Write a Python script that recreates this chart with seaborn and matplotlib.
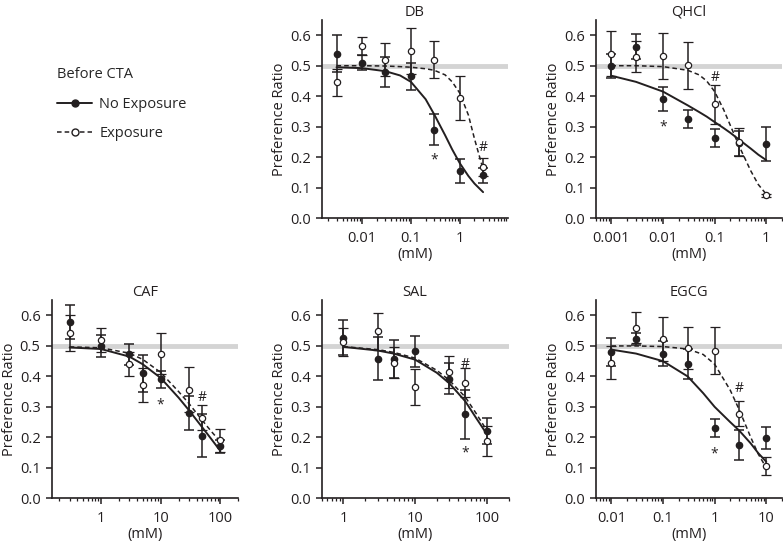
import matplotlib
matplotlib.use("Agg")
import matplotlib.pyplot as plt
import seaborn as sns
from matplotlib.lines import Line2D
from matplotlib.ticker import FuncFormatter, LogLocator, NullFormatter

sns.set_style("ticks")
plt.rcParams['font.family'] = ['Open Sans', 'DejaVu Sans']

INK = '#231f20'

# ---- DB ----
db_conc = [0.003, 0.01, 0.03, 0.1, 0.3, 1, 3]
db_noexp = [0.54, 0.51, 0.48, 0.465, 0.29, 0.155, 0.14]
db_noexp_err = [0.06, 0.025, 0.05, 0.045, 0.05, 0.04, 0.025]
db_exp = [0.445, 0.565, 0.52, 0.548, 0.52, 0.395, 0.168]
db_exp_err = [0.045, 0.03, 0.055, 0.075, 0.06, 0.072, 0.03]
db_fit_x = [0.003, 0.01, 0.03, 0.06, 0.1, 0.2, 0.3, 0.5, 0.7, 1, 1.5, 2, 3]
db_fit_noexp = [0.495, 0.492, 0.482, 0.468, 0.447, 0.39, 0.34, 0.272, 0.225, 0.18, 0.138, 0.113, 0.085]
db_fit_exp = [0.5, 0.5, 0.499, 0.497, 0.495, 0.49, 0.485, 0.47, 0.447, 0.41, 0.338, 0.26, 0.16]

# ---- QHCl ----
qh_conc = [0.001, 0.003, 0.01, 0.03, 0.1, 0.3, 1]
qh_noexp = [0.50, 0.563, 0.39, 0.325, 0.262, 0.245, 0.243]
qh_noexp_err = [0.04, 0.04, 0.04, 0.03, 0.03, 0.04, 0.055]
qh_exp = [0.54, 0.53, 0.532, 0.502, 0.373, 0.25, 0.075]
qh_exp_err = [0.075, 0.05, 0.077, 0.077, 0.063, 0.045, 0.005]
qh_fit_x = [0.001, 0.003, 0.01, 0.03, 0.05, 0.07, 0.1, 0.15, 0.2, 0.3, 0.5, 0.7, 1]
qh_fit_noexp = [0.467, 0.447, 0.415, 0.37, 0.348, 0.333, 0.315, 0.295, 0.28, 0.257, 0.228, 0.208, 0.19]
qh_fit_exp = [0.5, 0.5, 0.497, 0.485, 0.47, 0.45, 0.415, 0.355, 0.305, 0.235, 0.155, 0.11, 0.078]

# ---- CAF ----
caf_conc = [0.3, 1, 3, 5, 10, 30, 50, 100]
caf_noexp = [0.578, 0.50, 0.473, 0.41, 0.39, 0.28, 0.205, 0.17]
caf_noexp_err = [0.055, 0.035, 0.035, 0.06, 0.028, 0.055, 0.07, 0.02]
caf_exp = [0.543, 0.52, 0.44, 0.372, 0.475, 0.357, 0.265, 0.19]
caf_exp_err = [0.06, 0.04, 0.04, 0.057, 0.068, 0.075, 0.04, 0.038]
caf_fit_x = [0.3, 1, 3, 5, 10, 20, 30, 50, 70, 100]
caf_fit_noexp = [0.495, 0.49, 0.465, 0.44, 0.395, 0.33, 0.288, 0.232, 0.195, 0.155]
caf_fit_exp = [0.497, 0.494, 0.476, 0.456, 0.413, 0.35, 0.31, 0.255, 0.22, 0.185]

# ---- SAL ----
sal_conc = [1, 3, 5, 10, 30, 50, 100]
sal_noexp = [0.527, 0.458, 0.458, 0.482, 0.393, 0.275, 0.22]
sal_noexp_err = [0.058, 0.07, 0.063, 0.05, 0.05, 0.08, 0.042]
sal_exp = [0.513, 0.548, 0.445, 0.365, 0.415, 0.38, 0.188]
sal_exp_err = [0.045, 0.06, 0.05, 0.06, 0.053, 0.047, 0.048]
sal_fit_x = [1, 3, 5, 10, 20, 30, 50, 70, 100]
sal_fit_noexp = [0.497, 0.485, 0.475, 0.455, 0.412, 0.377, 0.318, 0.265, 0.21]
sal_fit_exp = [0.498, 0.488, 0.479, 0.46, 0.42, 0.387, 0.332, 0.28, 0.222]

# ---- EGCG ----
eg_conc = [0.01, 0.03, 0.1, 0.3, 1, 3, 10]
eg_noexp = [0.48, 0.523, 0.475, 0.44, 0.23, 0.175, 0.198]
eg_noexp_err = [0.045, 0.02, 0.04, 0.05, 0.03, 0.05, 0.035]
eg_exp = [0.445, 0.56, 0.523, 0.493, 0.485, 0.278, 0.105]
eg_exp_err = [0.055, 0.05, 0.072, 0.068, 0.077, 0.04, 0.03]
eg_fit_x = [0.01, 0.03, 0.1, 0.3, 0.6, 1, 2, 3, 5, 7, 10]
eg_fit_noexp = [0.488, 0.475, 0.45, 0.4, 0.345, 0.3, 0.25, 0.222, 0.18, 0.148, 0.12]
eg_fit_exp = [0.5, 0.5, 0.498, 0.49, 0.472, 0.44, 0.355, 0.29, 0.2, 0.145, 0.1]

panels = [
    dict(title='DB', conc=db_conc, noexp=db_noexp, noexp_err=db_noexp_err, exp=db_exp, exp_err=db_exp_err,
         fit_x=db_fit_x, fit_noexp=db_fit_noexp, fit_exp=db_fit_exp, xlim=(0.0015, 9.6),
         star=(0.3, 0.19), hash=(3, 0.23), rect=[0.411, 0.597, 0.2375, 0.366]),
    dict(title='QHCl', conc=qh_conc, noexp=qh_noexp, noexp_err=qh_noexp_err, exp=qh_exp, exp_err=qh_exp_err,
         fit_x=qh_fit_x, fit_noexp=qh_fit_noexp, fit_exp=qh_fit_exp, xlim=(0.0005, 2),
         star=(0.01, 0.30), hash=(0.1, 0.46), rect=[0.761, 0.597, 0.2375, 0.366]),
    dict(title='CAF', conc=caf_conc, noexp=caf_noexp, noexp_err=caf_noexp_err, exp=caf_exp, exp_err=caf_exp_err,
         fit_x=caf_fit_x, fit_noexp=caf_fit_noexp, fit_exp=caf_fit_exp, xlim=(0.15, 200),
         star=(10, 0.305), hash=(50, 0.33), rect=[0.066, 0.079, 0.2385, 0.366]),
    dict(title='SAL', conc=sal_conc, noexp=sal_noexp, noexp_err=sal_noexp_err, exp=sal_exp, exp_err=sal_exp_err,
         fit_x=sal_fit_x, fit_noexp=sal_fit_noexp, fit_exp=sal_fit_exp, xlim=(0.5, 200),
         star=(50, 0.15), hash=(50, 0.44), rect=[0.411, 0.079, 0.2385, 0.366]),
    dict(title='EGCG', conc=eg_conc, noexp=eg_noexp, noexp_err=eg_noexp_err, exp=eg_exp, exp_err=eg_exp_err,
         fit_x=eg_fit_x, fit_noexp=eg_fit_noexp, fit_exp=eg_fit_exp, xlim=(0.005, 20),
         star=(1, 0.145), hash=(3, 0.36), rect=[0.761, 0.079, 0.2375, 0.366]),
]

fig = plt.figure(figsize=(7.83, 5.41), dpi=100)

for p in panels:
    ax = fig.add_axes(p['rect'])
    ax.axhline(0.5, color='#d4d4d4', lw=3.5, zorder=0)
    # fitted curves
    sns.lineplot(x=p['fit_x'], y=p['fit_noexp'], ax=ax, color=INK, lw=1.4, zorder=2)
    sns.lineplot(x=p['fit_x'], y=p['fit_exp'], ax=ax, color=INK, lw=1.1,
                 linestyle=(0, (3, 2)), zorder=2)
    # data points with error bars
    ax.errorbar(p['conc'], p['noexp'], yerr=p['noexp_err'], fmt='o', color=INK, ms=4.5,
                mfc=INK, mec=INK, ecolor=INK, elinewidth=1.1, capsize=3.8, capthick=1.1, zorder=3)
    ax.errorbar(p['conc'], p['exp'], yerr=p['exp_err'], fmt='o', color=INK, ms=4.5,
                mfc='white', mec=INK, mew=0.9, ecolor=INK, elinewidth=1.1, capsize=3.8,
                capthick=1.1, zorder=4)
    ax.text(p['star'][0], p['star'][1], '*', ha='center', va='center', fontsize=10, color=INK)
    ax.text(p['hash'][0], p['hash'][1], '#', ha='center', va='center', fontsize=10, color=INK)

    ax.set_xscale('log')
    ax.set_xlim(*p['xlim'])
    ax.set_ylim(0, 0.65)
    ax.set_yticks([0.0, 0.1, 0.2, 0.3, 0.4, 0.5, 0.6])
    ax.yaxis.set_major_formatter(FuncFormatter(lambda v, _: f"{v:.1f}"))
    ax.xaxis.set_major_locator(LogLocator(base=10))
    ax.xaxis.set_minor_locator(LogLocator(base=10, subs=range(2, 10)))
    ax.xaxis.set_major_formatter(FuncFormatter(lambda v, _: f"{v:g}"))
    ax.xaxis.set_minor_formatter(NullFormatter())
    ax.tick_params(axis='both', which='major', direction='out', length=4, width=1.1,
                   labelsize=10.5, color=INK, labelcolor=INK)
    ax.tick_params(axis='x', which='major', pad=5)
    ax.tick_params(axis='y', which='major', pad=4)
    ax.tick_params(axis='x', which='minor', direction='out', length=2.2, width=0.9, color=INK)
    for s in ['top', 'right']:
        ax.spines[s].set_visible(False)
    for s in ['left', 'bottom']:
        ax.spines[s].set_linewidth(1.2)
        ax.spines[s].set_color(INK)
    ax.set_title(p['title'], fontsize=10.5, color=INK, pad=3)
    ax.set_ylabel('Preference Ratio', fontsize=10.5, color=INK, labelpad=2)
    ax.set_xlabel('(mM)', fontsize=10.5, color=INK, labelpad=1)

handles = [
    Line2D([], [], color=INK, lw=1.4, marker='o', ms=5, mfc=INK, mec=INK),
    Line2D([], [], color=INK, lw=1.1, linestyle=(0, (3, 2)), marker='o', ms=5, mfc='white', mec=INK),
]
fig.legend(handles, ['No Exposure', 'Exposure'], title='Before CTA', loc='upper left',
           bbox_to_anchor=(44 / 783, 1 - 54 / 541), frameon=False, fontsize=10.5,
           title_fontsize=10.5, alignment='left', handlelength=2.4, labelspacing=1.0,
           handletextpad=0.5)

fig.savefig('out.png', dpi=100)
